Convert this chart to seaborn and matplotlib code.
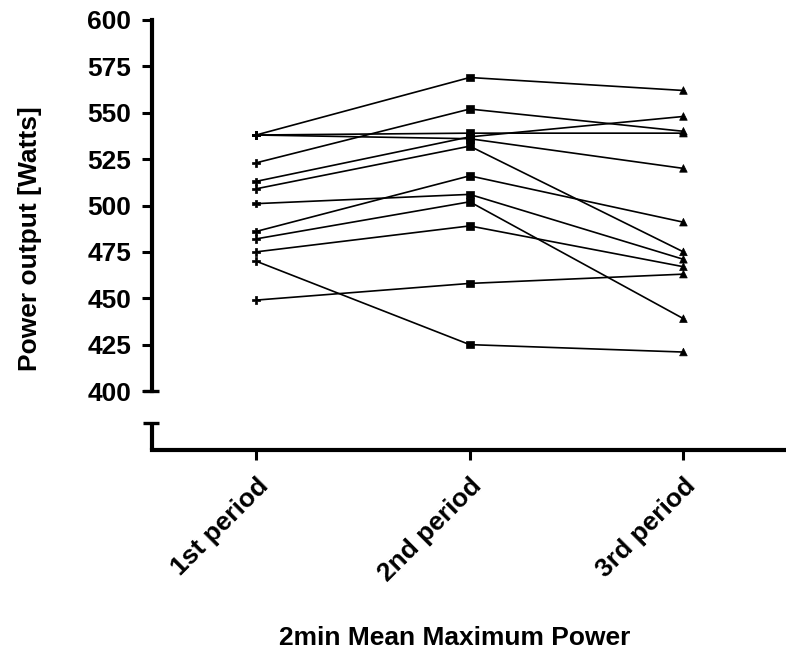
import numpy as np
import pandas as pd
import matplotlib
matplotlib.use("Agg")
import matplotlib.pyplot as plt
import matplotlib.transforms as mtransforms
import seaborn as sns

# ---- data ----
periods = ["1st period", "2nd period", "3rd period"]
p1 = [538, 538, 538, 523, 513, 509, 501, 486, 482, 475, 470, 449]
p2 = [569, 539, 536, 552, 537, 532, 506, 516, 502, 489, 425, 458]
p3 = [562, 539, 520, 540, 548, 475, 471, 491, 439, 467, 421, 463]
yticks = [400, 425, 450, 475, 500, 525, 550, 575, 600]

rows = []
for s, vals in enumerate(zip(p1, p2, p3)):
    for i, v in enumerate(vals):
        rows.append({"subject": s, "pos": i, "period": periods[i], "value": v})
df = pd.DataFrame(rows)

sns.set_theme(style="ticks")
plt.rcParams["font.family"] = ["Liberation Sans", "DejaVu Sans"]
plt.rcParams["text.color"] = "black"
plt.rcParams["axes.labelcolor"] = "black"

fig = plt.figure(figsize=(7.86, 6.63), dpi=100)
ax = fig.add_axes([152 / 786, (663 - 450) / 663, (786 - 152) / 786, (450 - 20) / 663])

sns.lineplot(data=df, x="pos", y="value", units="subject", estimator=None,
             color="black", linewidth=1.2, ax=ax, legend=False)
sns.scatterplot(data=df, x="pos", y="value", style="period",
                markers={"1st period": "P", "2nd period": "s", "3rd period": "^"},
                color="black", s=30, edgecolor="black", linewidth=0.5,
                ax=ax, legend=False, zorder=5)

ax.set_xlim(-0.487, 2.48)
ax.set_ylim(368.2, 600)
ax.set_xticks(range(len(periods)))
ax.set_xticklabels(periods, rotation=45, ha="right", rotation_mode="anchor",
                   fontsize=19, fontweight="bold", color="black")
ax.set_yticks(yticks)
ax.set_yticklabels([str(t) for t in yticks], fontsize=19, fontweight="bold",
                   color="black")

for side in ["top", "right"]:
    ax.spines[side].set_visible(False)
lw = 3.0
ax.spines["left"].set_linewidth(lw)
ax.spines["bottom"].set_linewidth(lw)
ax.spines["left"].set_color("black")
ax.spines["bottom"].set_color("black")
ax.spines["left"].set_bounds(400, 600)
ax.tick_params(axis="both", width=2.2, length=7, direction="out", colors="black")
ax.tick_params(axis="y", pad=8)
ax.tick_params(axis="x", pad=10)

# broken-axis stub and caps
tr = mtransforms.blended_transform_factory(ax.transAxes, ax.transData)
wpx = 786 - 152
ax.plot([0, 0], [368.2, 382.7], color="black", lw=lw, transform=tr, clip_on=False,
        solid_capstyle="butt")
ax.plot([-9 / wpx, 7 / wpx], [382.7, 382.7], color="black", lw=2.4, transform=tr,
        clip_on=False, solid_capstyle="butt")
ax.plot([-9 / wpx, 7 / wpx], [400, 400], color="black", lw=2.4, transform=tr,
        clip_on=False, solid_capstyle="butt")

ax.set_xlabel("2min Mean Maximum Power", fontsize=19, fontweight="bold", color="black")
ax.set_ylabel("Power output [Watts]", fontsize=19, fontweight="bold", color="black")
ax.yaxis.set_label_coords((42 - 152) / wpx, (482 - 368.2) / (600 - 368.2))
ax.xaxis.set_label_coords((455 - 152) / wpx, -(626 - 450) / 430)

fig.savefig("out.png", dpi=100)
